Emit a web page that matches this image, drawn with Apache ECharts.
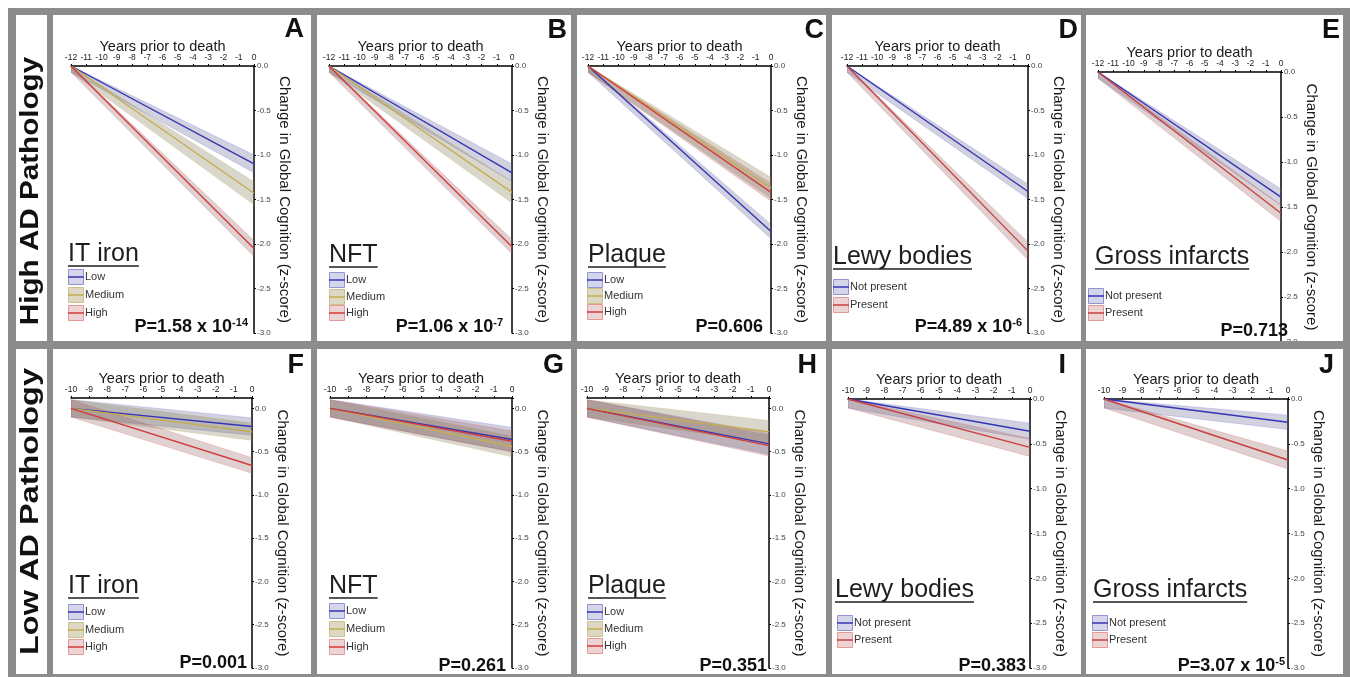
<!DOCTYPE html>
<html>
<head>
<meta charset="utf-8">
<script src="https://cdn.jsdelivr.net/npm/echarts@6/dist/echarts.min.js"></script>
<style>
html,body{margin:0;padding:0;background:#fff;}
#c{width:1350px;height:677px;}
</style>
</head>
<body>
<div id="c"></div>
<script>
// ---------------- DATA ----------------
const rowLabels = ['High AD Pathology', 'Low AD Pathology'];
const panelLetters = ['A','B','C','D','E','F','G','H','I','J'];
const factorNames = ['IT iron','NFT','Plaque','Lewy bodies','Gross infarcts','IT iron','NFT','Plaque','Lewy bodies','Gross infarcts'];
const levelsThree = ['Low','Medium','High'];
const levelsTwo = ['Not present','Present'];
const xAxisTitle = 'Years prior to death';
const yAxisTitle = 'Change in Global Cognition (z-score)';
const startYearHigh = -12;
const startYearLow = -10;
const deathYear = 0;
const yMin = -3.0;
const yStep = 0.5;

// change in global cognition at death (year 0); lines start at 0 change
const endA = [-1.10, -1.43, -2.05];
const endB = [-1.20, -1.42, -2.03];
const endC = [-1.86, -1.37, -1.42];
const endD = [-1.41, -2.08];
const endE = [-1.39, -1.57];
const endF = [-0.21, -0.27, -0.66];
const endG = [-0.36, -0.44, -0.38];
const endH = [-0.41, -0.27, -0.43];
const endI = [-0.36, -0.54];
const endJ = [-0.26, -0.68];

// confidence band half-width at death
const ciA = [0.10, 0.13, 0.09];
const ciB = [0.10, 0.12, 0.08];
const ciC = [0.08, 0.12, 0.10];
const ciD = [0.08, 0.10];
const ciE = [0.09, 0.09];
const ciF = [0.10, 0.10, 0.09];
const ciG = [0.14, 0.12, 0.12];
const ciH = [0.12, 0.13, 0.12];
const ciI = [0.09, 0.10];
const ciJ = [0.08, 0.10];
// confidence band half-width at start year
const ciStartHigh = 0.07;
const ciStartLow = 0.10;

const pMant = ['1.58 x 10','1.06 x 10','0.606','4.89 x 10','0.713','0.001','0.261','0.351','0.383','3.07 x 10'];
const pExp  = ['-14','-7','','-6','','','','','','-5'];

// ---------------- STYLE / LAYOUT ----------------
const FONT = '"Liberation Sans", Arial, Helvetica, sans-serif';
const GRAY = '#8c8c8c';
const lineColors3 = ['#3434b4', '#c4ad52', '#d23c3c'];
const lineColors2 = ['#3434b4', '#c84040'];
const bandFill3 = ['rgba(100,100,145,0.29)', 'rgba(125,116,80,0.29)', 'rgba(145,95,95,0.29)'];
const bandFill2 = ['rgba(100,100,145,0.29)', 'rgba(145,95,95,0.29)'];
const bandEdge3 = ['rgba(80,80,220,0.28)', 'rgba(190,170,80,0.28)', 'rgba(220,80,80,0.28)'];
const bandEdge2 = ['rgba(80,80,220,0.28)', 'rgba(220,80,80,0.28)'];
const boxFill3 = ['#d6d6ea', '#dcd8c4', '#ecd4d4'];
const boxFill2 = ['#d6d6ea', '#ecd4d4'];
const boxStroke3 = ['#9494d4', '#cfc090', '#e39a9a'];
const boxStroke2 = ['#9494d4', '#e39a9a'];

const ends = [endA,endB,endC,endD,endE,endF,endG,endH,endI,endJ];
const cis = [ciA,ciB,ciC,ciD,ciE,ciF,ciG,ciH,ciI,ciJ];

// layout per panel
const layout = [
  {grid:[71,66,183,267],  ymax:0,    tX:68,   tY:254, lX:68,   lY:[277,295,313], letR:304,  letY:30,  pR:248,  pY:327},
  {grid:[329,66,183,267], ymax:0,    tX:329,  tY:255, lX:329,  lY:[280,297,313], letR:567,  letY:31,  pR:503,  pY:327},
  {grid:[588,66,183,267], ymax:0,    tX:588,  tY:255, lX:587,  lY:[280,296,312], letR:824,  letY:31,  pR:763,  pY:327},
  {grid:[847,66,181,267], ymax:0,    tX:833,  tY:257, lX:833,  lY:[287,305],     letR:1078, letY:31,  pR:1022, pY:327},
  {grid:[1098,72,183,270],ymax:0,    tX:1095, tY:257, lX:1088, lY:[296,313],     letR:1340, letY:31,  pR:1288, pY:331},
  {grid:[71,398,181,270], ymax:0.12, tX:68,   tY:586, lX:68,   lY:[612,630,647], letR:304,  letY:366, pR:247,  pY:663},
  {grid:[330,398,182,270],ymax:0.12, tX:329,  tY:586, lX:329,  lY:[611,629,647], letR:564,  letY:366, pR:506,  pY:666},
  {grid:[587,398,182,270],ymax:0.12, tX:588,  tY:586, lX:587,  lY:[612,629,646], letR:817,  letY:366, pR:767,  pY:666},
  {grid:[848,399,182,269],ymax:0,    tX:835,  tY:590, lX:837,  lY:[623,640],     letR:1066, letY:366, pR:1026, pY:666},
  {grid:[1104,399,184,269],ymax:0,   tX:1093, tY:590, lX:1092, lY:[623,640],     letR:1334, letY:366, pR:1285, pY:666}
];

const mctx = document.createElement('canvas').getContext('2d');
function textWidth(t, font){ mctx.font = font; return mctx.measureText(t).width; }

function bandRenderer(fill, edge) {
  return function (params, api) {
    const p1 = api.coord([api.value(0), api.value(2)]);
    const p2 = api.coord([api.value(3), api.value(5)]);
    const p3 = api.coord([api.value(3), api.value(4)]);
    const p4 = api.coord([api.value(0), api.value(1)]);
    const cs = params.coordSys;
    const pts = echarts.graphic.clipPointsByRect([p1, p2, p3, p4], {x:cs.x, y:cs.y, width:cs.width, height:cs.height});
    return {type:'polygon', shape:{points:pts}, style:{fill:fill, stroke:edge, lineWidth:0.8}};
  };
}

// ---------------- BUILD ----------------
const grids = [], xAxes = [], yAxes = [], series = [], graphics = [];

for (let i = 0; i < 10; i++) {
  const L = layout[i];
  const high = i < 5;
  const x0 = high ? startYearHigh : startYearLow;
  const ciStart = high ? ciStartHigh : ciStartLow;
  const nLev = ends[i].length;
  const levels = nLev === 3 ? levelsThree : levelsTwo;
  const lc = nLev === 3 ? lineColors3 : lineColors2;
  const bf = nLev === 3 ? bandFill3 : bandFill2;
  const be = nLev === 3 ? bandEdge3 : bandEdge2;
  const bxf = nLev === 3 ? boxFill3 : boxFill2;
  const bxs = nLev === 3 ? boxStroke3 : boxStroke2;

  grids.push({left:L.grid[0], top:L.grid[1], width:L.grid[2], height:L.grid[3], containLabel:false, outerBoundsMode:'none'});
  xAxes.push({
    gridIndex:i, type:'value', position:'top', min:x0, max:deathYear, interval:1,
    name:xAxisTitle, nameLocation:'middle', nameGap:12, nameMoveOverlap:false,
    nameTextStyle:{fontFamily:FONT, fontSize:14.5, color:'#1a1a1a'},
    axisLine:{show:true, onZero:false, lineStyle:{color:'#000', width:1.5}},
    axisTick:{show:true, length:2, lineStyle:{color:'#000', width:1}},
    axisLabel:{show:true, margin:4, fontFamily:FONT, fontSize:8.5, color:'#222', formatter:v=>String(v)},
    splitLine:{show:false}
  });
  yAxes.push({
    gridIndex:i, type:'value', position:'right', min:yMin, max:L.ymax, interval:yStep,
    name:yAxisTitle, nameLocation:'middle', nameGap:23, nameRotate:-90, nameMoveOverlap:false,
    nameTextStyle:{fontFamily:FONT, fontSize:15, color:'#1a1a1a'},
    axisLine:{show:true, onZero:false, lineStyle:{color:'#000', width:1.5}},
    axisTick:{show:true, length:2, lineStyle:{color:'#000', width:1}},
    axisLabel:{show:true, margin:3, fontFamily:FONT, fontSize:8, color:'#444',
      formatter:v => (Math.abs(v/yStep - Math.round(v/yStep)) < 1e-6) ? v.toFixed(1) : ''},
    splitLine:{show:false}
  });

  // confidence bands (polygon through axis coordinates)
  ends[i].forEach((e, g) => {
    const hw1 = cis[i][g];
    series.push({
      type:'custom', xAxisIndex:i, yAxisIndex:i, clip:true, silent:true, animation:false, z:2,
      renderItem:bandRenderer(bf[g], be[g]),
      encode:{x:[0,3], y:[1,2,4,5]},
      data:[[x0, -ciStart, ciStart, deathYear, e - hw1, e + hw1]]
    });
  });
  // mean lines
  ends[i].forEach((e, g) => {
    series.push({
      type:'line', name:levels[g], xAxisIndex:i, yAxisIndex:i,
      data:[[x0, 0], [deathYear, e]],
      symbol:'none', silent:true, animation:false, z:3,
      lineStyle:{color:lc[g], width:1.4}
    });
  });

  // factor title with underline
  const tFont = '25px ' + FONT;
  graphics.push({type:'text', x:L.tX, y:L.tY, z:10, silent:true,
    style:{text:factorNames[i], font:tFont, fill:'#1e1e1e', align:'left', verticalAlign:'middle'}});
  const tw = textWidth(factorNames[i], tFont);
  graphics.push({type:'line', z:10, silent:true,
    shape:{x1:L.tX, y1:L.tY+12, x2:L.tX+tw, y2:L.tY+12},
    style:{stroke:'#1e1e1e', lineWidth:1.5}});

  // legend
  levels.forEach((lv, g) => {
    const cy = L.lY[g];
    graphics.push({type:'rect', z:10, silent:true,
      shape:{x:L.lX+0.5, y:cy-7.5, width:15, height:15},
      style:{fill:bxf[g], stroke:bxs[g], lineWidth:1}});
    graphics.push({type:'line', z:11, silent:true,
      shape:{x1:L.lX, y1:cy, x2:L.lX+16, y2:cy},
      style:{stroke:lc[g], lineWidth:1.5}});
    graphics.push({type:'text', x:L.lX+17, y:cy, z:11, silent:true,
      style:{text:lv, font:'11px ' + FONT, fill:'#333', align:'left', verticalAlign:'middle'}});
  });

  // panel letter
  graphics.push({type:'text', x:L.letR, y:L.letY, z:10, silent:true,
    style:{text:panelLetters[i], font:'bold 27px ' + FONT, fill:'#111', align:'right', verticalAlign:'middle'}});

  // p-value
  const pText = pExp[i] ? '{a|P=' + pMant[i] + '}{s|' + pExp[i] + '}' : '{a|P=' + pMant[i] + '}';
  graphics.push({type:'text', x:L.pR, y:L.pY, z:10, silent:true,
    style:{text:pText, align:'right', verticalAlign:'middle', fill:'#111',
      rich:{
        a:{fontFamily:FONT, fontSize:18, fontWeight:'bold', lineHeight:20, fill:'#111'},
        s:{fontFamily:FONT, fontSize:11, fontWeight:'bold', lineHeight:9, verticalAlign:'top', fill:'#111'}
      }}});
}

// row labels
const rowY = [191, 511.5];
const rowScale = [1.14, 1.25];
rowLabels.forEach((t, r) => {
  graphics.push({type:'text', x:30.5, y:rowY[r], rotation:Math.PI/2, scaleX:rowScale[r], z:10, silent:true,
    style:{text:t, font:'bold 26px ' + FONT, fill:'#111', align:'center', verticalAlign:'middle'}});
});

// gray frame bars (drawn on top)
const bars = [
  [8, 8, 1342, 7],
  [8, 674, 1342, 3],
  [8, 341, 1342, 8],
  [8, 8, 8, 669],
  [47, 8, 6, 669],
  [311, 8, 6, 669],
  [571, 8, 6, 669],
  [826, 8, 6, 669],
  [1081, 8, 5, 669],
  [1343, 8, 7, 669]
];
bars.forEach(b => graphics.push({type:'rect', z:100, silent:true,
  shape:{x:b[0], y:b[1], width:b[2], height:b[3]}, style:{fill:GRAY}}));

const chart = echarts.init(document.getElementById('c'), null, {renderer:'canvas', width:1350, height:677});
chart.setOption({
  animation:false,
  backgroundColor:'#ffffff',
  grid:grids,
  xAxis:xAxes,
  yAxis:yAxes,
  series:series,
  graphic:{elements:graphics}
});
</script>
</body>
</html>
